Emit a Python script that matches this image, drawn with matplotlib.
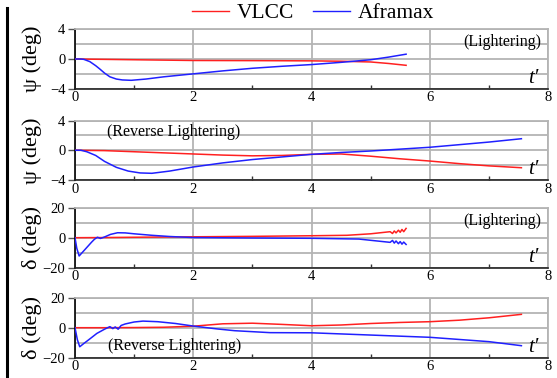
import numpy as np
import matplotlib
matplotlib.use("Agg")
import matplotlib.pyplot as plt
from matplotlib.ticker import MultipleLocator, FixedLocator

plt.rcParams['font.family'] = ['Liberation Serif', 'DejaVu Serif']

# panel 1: heading, lightering
t_psi_l_vlcc = [0, 0.5, 1, 2, 3, 4, 4.5, 5, 5.3, 5.6]
psi_l_vlcc = [0, -0.05, -0.1, -0.2, -0.22, -0.25, -0.3, -0.4, -0.6, -0.85]
t_psi_l_afra = [0, 0.1, 0.15, 0.25, 0.35, 0.42, 0.5, 0.59, 0.7, 0.8, 0.95, 1.2, 1.5, 2, 2.5, 3, 3.5, 4, 4.5, 5, 5.3, 5.6]
psi_l_afra = [0, 0, -0.05, -0.35, -0.9, -1.35, -1.9, -2.4, -2.7, -2.82, -2.87, -2.7, -2.4, -2.0, -1.6, -1.25, -0.98, -0.75, -0.45, -0.1, 0.25, 0.65]

# panel 2: heading, reverse lightering
t_psi_r_vlcc = [0, 0.5, 1, 1.5, 2, 2.5, 3, 3.5, 4, 4.5, 5, 5.5, 6, 6.5, 7, 7.55]
psi_r_vlcc = [0, -0.05, -0.2, -0.35, -0.5, -0.65, -0.75, -0.7, -0.55, -0.5, -0.8, -1.15, -1.45, -1.8, -2.1, -2.35]
t_psi_r_afra = [0, 0.1, 0.2, 0.35, 0.5, 0.7, 0.9, 1.1, 1.3, 1.6, 2, 2.5, 3, 3.5, 4, 4.5, 5, 5.5, 6, 6.5, 7, 7.55]
psi_r_afra = [0, 0, -0.2, -0.7, -1.5, -2.3, -2.8, -3.05, -3.1, -2.8, -2.25, -1.7, -1.25, -0.9, -0.55, -0.3, -0.1, 0.15, 0.4, 0.75, 1.1, 1.55]

# panel 3: rudder, lightering
t_del_l_vlcc = [0, 0.5, 1, 2, 3, 4, 4.6, 5, 5.33, 5.37, 5.40, 5.43, 5.47, 5.50, 5.53, 5.56, 5.60]
del_l_vlcc = [0, 0.1, 0.3, 0.6, 0.9, 1.3, 1.6, 2.6, 4.0, 2.8, 4.5, 3.2, 5.0, 3.6, 5.5, 4.0, 6.2]
t_del_l_afra = [0, 0.03, 0.07, 0.12, 0.2, 0.28, 0.33, 0.38, 0.43, 0.5, 0.6, 0.72, 0.85, 1.0, 1.3, 1.6, 2, 3, 4, 4.8, 5.33, 5.37, 5.40, 5.43, 5.47, 5.50, 5.53, 5.56, 5.60]
del_l_afra = [0, -7, -12.2, -10, -6.5, -3, -1, 0.3, -0.5, 0.5, 2.2, 3.3, 3.2, 2.6, 1.6, 0.8, 0.1, -0.2, -0.4, -0.9, -3.1, -1.8, -3.6, -2.2, -4.0, -2.6, -4.3, -2.9, -4.5]

# panel 4: rudder, reverse lightering
t_del_r_vlcc = [0, 0.5, 1, 1.5, 2, 2.5, 3, 3.5, 4, 4.5, 5, 5.5, 6, 6.5, 7, 7.55]
del_r_vlcc = [0, 0, 0.1, 0.3, 1.0, 2.6, 3.0, 2.2, 1.3, 1.8, 2.8, 3.5, 4.0, 5.0, 6.6, 8.9]
t_del_r_afra = [0, 0.04, 0.08, 0.15, 0.25, 0.37, 0.5, 0.59, 0.64, 0.68, 0.73, 0.78, 0.85, 1.0, 1.15, 1.4, 1.7, 2, 2.4, 2.7, 3.3, 4, 5, 6, 7, 7.55]
del_r_afra = [0, -8, -12.7, -10.5, -7.5, -3.8, -1.0, 0.7, -0.6, 0.5, -1.0, 1.5, 2.5, 3.8, 4.4, 4.0, 2.8, 1.1, -0.8, -2.0, -3.3, -3.4, -4.9, -6.4, -9.3, -12]

red = '#ff2020'
blue = '#2020ff'
grid_c = '#b4b4b4'

fig = plt.figure(figsize=(5.57, 3.78), dpi=100)
W, H = 557.0, 378.0
left, right = 75 / W, 548 / W
panels = [(29.3, 88.7), (120.5, 180.0), (207.7, 267.7), (297.7, 357.7)]

# (vlcc t, vlcc y, aframax t, aframax y, kind, note, note position, alignment)
data = [
    (t_psi_l_vlcc, psi_l_vlcc, t_psi_l_afra, psi_l_afra, 'psi', '(Lightering)', (0.985, 0.78), 'right'),
    (t_psi_r_vlcc, psi_r_vlcc, t_psi_r_afra, psi_r_afra, 'psi', '(Reverse Lightering)', (0.068, 0.8), 'left'),
    (t_del_l_vlcc, del_l_vlcc, t_del_l_afra, del_l_afra, 'delta', '(Lightering)', (0.985, 0.78), 'right'),
    (t_del_r_vlcc, del_r_vlcc, t_del_r_afra, del_r_afra, 'delta', '(Reverse Lightering)', (0.07, 0.2), 'left'),
]

axes = []
for (top, bot), (tv, yv, ta, ya, kind, note, pos, ha) in zip(panels, data):
    ax = fig.add_axes([left, 1 - bot / H, right - left, (bot - top) / H])
    ax.plot(tv, yv, color=red, lw=1.1, zorder=3)
    ax.plot(ta, ya, color=blue, lw=1.1, zorder=3)
    ax.set_xlim(0, 8)
    ax.xaxis.set_major_locator(MultipleLocator(2))
    ax.xaxis.set_minor_locator(FixedLocator([1, 3, 5, 7]))
    if kind == 'psi':
        ax.set_ylim(-4, 4)
        ax.yaxis.set_major_locator(FixedLocator([-4, 0, 4]))
        ax.yaxis.set_minor_locator(FixedLocator([-2, 2]))
        ax.set_ylabel('ψ (deg)', fontsize=16)
    else:
        ax.set_ylim(-20, 20)
        ax.yaxis.set_major_locator(FixedLocator([-20, 0, 20]))
        ax.yaxis.set_minor_locator(FixedLocator([-10, 10]))
        ax.set_ylabel('δ (deg)', fontsize=16)
    ax.grid(True, which='major', axis='both', color=grid_c, lw=1.3, zorder=1)
    ax.grid(True, which='minor', axis='y', color=grid_c, lw=1.3, zorder=1)
    ax.tick_params(axis='y', which='major', length=5, width=1, color='#555555',
                   labelsize=10.5, pad=2)
    ax.tick_params(axis='y', which='minor', length=0)
    ax.tick_params(axis='x', which='major', length=0, labelsize=10.5, pad=2)
    ax.tick_params(axis='x', which='minor', direction='in', length=3, width=1, color='#333333')
    for s in ('top', 'right'):
        ax.spines[s].set_color(grid_c)
        ax.spines[s].set_linewidth(1.3)
    ax.spines['left'].set_color('black')
    ax.spines['left'].set_linewidth(1.2)
    ax.spines['bottom'].set_color('#222222')
    ax.spines['bottom'].set_linewidth(1.2)
    ax.yaxis.set_label_coords(-0.069, 0.5)
    ax.text(0.968, 0.02, "t′", transform=ax.transAxes, fontsize=15, style='italic',
            ha='center', va='bottom', zorder=5)
    ax.text(pos[0], pos[1], note, transform=ax.transAxes, fontsize=11.5,
            ha=ha, va='center', zorder=5)
    axes.append(ax)

# legend at top
h1, = axes[0].plot([], [], color=red, lw=1.0, label='VLCC')
h2, = axes[0].plot([], [], color=blue, lw=1.0, label='Aframax')
fig.legend(handles=[h1, h2], loc='center', bbox_to_anchor=(0.562, 0.965),
           ncol=2, frameon=False, fontsize=15.5, handlelength=1.7,
           handletextpad=0.35, columnspacing=0.9, borderpad=0.1)

# thick bar on the left edge
fig.add_artist(plt.Line2D([7 / W, 7 / W], [0, 1 - 8 / H], color='black', lw=2.2,
                          transform=fig.transFigure))

fig.savefig('out.png', dpi=100)
